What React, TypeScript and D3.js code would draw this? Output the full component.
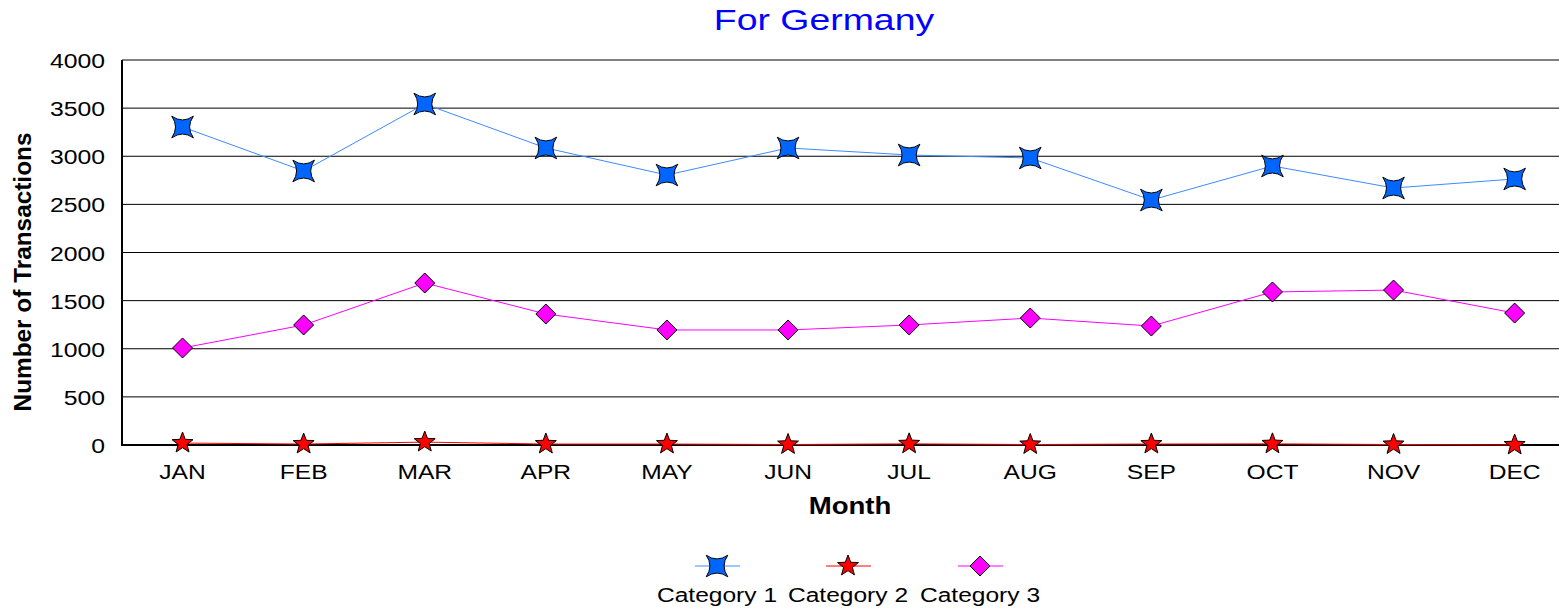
import React from "react";
import * as d3 from "d3";

const months = ["JAN", "FEB", "MAR", "APR", "MAY", "JUN", "JUL", "AUG", "SEP", "OCT", "NOV", "DEC"];
const category1 = [3304, 2847, 3543, 3086, 2805, 3086, 3013, 2982, 2545, 2899, 2670, 2764];
const category2 = [20, 10, 30, 10, 10, 5, 12, 5, 10, 12, 5, 0];
const category3 = [1008, 1247, 1683, 1361, 1195, 1195, 1247, 1319, 1236, 1590, 1610, 1371];
const yTicks = [0, 500, 1000, 1500, 2000, 2500, 3000, 3500, 4000];
const seriesNames = ["Category 1", "Category 2", "Category 3"];

const W = 1559, H = 609;
const left = 122, top = 60, bottom = 445;
const step = 121.1;
const font = "'Liberation Sans', Arial, sans-serif";

function star4curved(cx: number, cy: number, r: number) {
  const d = r * 0.72;
  const c = r * 0.22;
  const p = [
    [cx - d, cy - d],
    [cx + d, cy - d],
    [cx + d, cy + d],
    [cx - d, cy + d],
  ];
  let s = `M${p[0][0]},${p[0][1]}`;
  s += `Q${cx},${cy - c} ${p[1][0]},${p[1][1]}`;
  s += `Q${cx + c},${cy} ${p[2][0]},${p[2][1]}`;
  s += `Q${cx},${cy + c} ${p[3][0]},${p[3][1]}`;
  s += `Q${cx - c},${cy} ${p[0][0]},${p[0][1]}Z`;
  return s;
}
function star5(cx: number, cy: number, r: number) {
  const ri = r * 0.42;
  const pts: string[] = [];
  for (let i = 0; i < 10; i++) {
    const a = -Math.PI / 2 + (Math.PI / 5) * i;
    const rr = i % 2 === 0 ? r : ri;
    pts.push(`${cx + rr * Math.cos(a)},${cy + rr * Math.sin(a)}`);
  }
  return "M" + pts.join("L") + "Z";
}
function diamond(cx: number, cy: number, r: number) {
  return `M${cx},${cy - r}L${cx + r},${cy}L${cx},${cy + r}L${cx - r},${cy}Z`;
}

function SText(props: { x: number; y: number; sx: number; size: number; anchor?: string; bold?: boolean; fill?: string; children: React.ReactNode }) {
  const { x, y, sx, size, anchor = "middle", bold, fill = "#000", children } = props;
  return (
    <text
      transform={`translate(${x},${y}) scale(${sx},1)`}
      textAnchor={anchor as any}
      fontFamily={font}
      fontSize={size}
      fontWeight={bold ? "bold" : "normal"}
      fill={fill}
    >
      {children}
    </text>
  );
}

export default function App() {
  const x = d3.scaleBand<string>().domain(months).range([left, left + step * 12]);
  const y = d3.scaleLinear().domain([0, 4000]).range([bottom, top]);
  const cx = (m: string) => (x(m) as number) + x.bandwidth() / 2;

  const line = d3.line<number>().x((_, i) => cx(months[i])).y((v) => y(v));

  const series = [
    { name: seriesNames[0], data: category1, color: "#0066ff", marker: (a: number, b: number) => star4curved(a, b, 15), line: "#3d8bff" },
    { name: seriesNames[1], data: category2, color: "#ff0000", marker: (a: number, b: number) => star5(a, b, 11), line: "#ff0000" },
    { name: seriesNames[2], data: category3, color: "#ff00ff", marker: (a: number, b: number) => diamond(a, b, 10), line: "#ff00ff" },
  ];

  const legendX = [717, 848, 980];

  return (
    <svg width={W} height={H} style={{ position: "absolute", left: 0, top: 0 }}>
      <rect width={W} height={H} fill="#fff" />
      <SText x={824} y={29.5} sx={1.29} size={29} fill="#0000ff">For Germany</SText>
      {yTicks.map((t) => (
        <g key={t}>
          <line x1={left} x2={W} y1={y(t)} y2={y(t)} stroke="#000" strokeWidth={t === 0 ? 2 : 1} />
          <SText x={105} y={y(t) + 8} sx={1.18} size={21} anchor="end">{t}</SText>
        </g>
      ))}
      <line x1={left} x2={left} y1={top} y2={bottom + 1} stroke="#000" strokeWidth={2} />
      {months.map((m) => (
        <SText key={m} x={cx(m)} y={479} sx={1.2} size={20.5}>{m}</SText>
      ))}
      <SText x={850} y={514} sx={1.2} size={23} bold>Month</SText>
      <text transform={`translate(31,272) rotate(-90) scale(1.06,1)`} textAnchor="middle" fontFamily={font} fontSize={23} fontWeight="bold">Number of Transactions</text>
      {series.map((s) => (
        <g key={s.name}>
          <path d={line(s.data) || ""} fill="none" stroke={s.line} strokeWidth={1} />
          {s.data.map((v, i) => (
            <path key={i} d={s.marker(cx(months[i]), y(v))} fill={s.color} stroke="#000" strokeWidth={1} />
          ))}
        </g>
      ))}
      {series.map((s, i) => (
        <g key={s.name}>
          <line x1={legendX[i] - 22} x2={legendX[i] + 23} y1={566} y2={566} stroke={s.line} strokeWidth={1} />
          <path d={s.marker(legendX[i], 566)} fill={s.color} stroke="#000" strokeWidth={1} />
          <SText x={legendX[i]} y={602} sx={1.17} size={21}>{s.name}</SText>
        </g>
      ))}
    </svg>
  );
}
